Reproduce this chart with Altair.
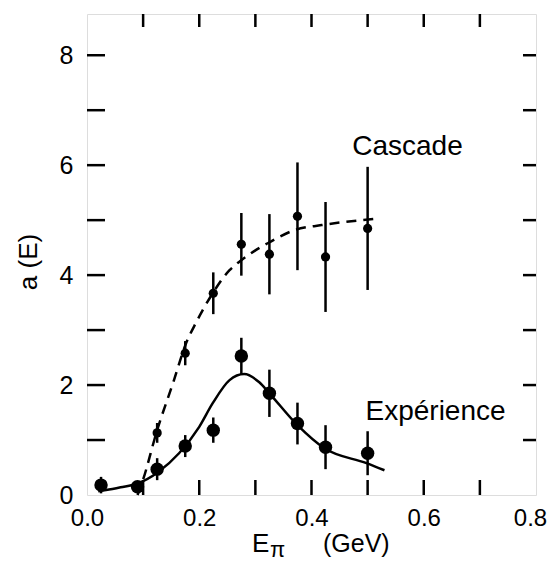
import altair as alt
import pandas as pd

# ---- data ----
cascade_x = [0.125, 0.175, 0.225, 0.275, 0.325, 0.375, 0.425, 0.5]
cascade_y = [1.13, 2.58, 3.67, 4.56, 4.38, 5.07, 4.33, 4.85]
cascade_err = [0.18, 0.22, 0.38, 0.57, 0.73, 0.98, 1.0, 1.12]

exp_x = [0.025, 0.09, 0.125, 0.175, 0.225, 0.275, 0.325, 0.375, 0.425, 0.5]
exp_y = [0.18, 0.15, 0.47, 0.89, 1.18, 2.53, 1.85, 1.3, 0.87, 0.76]
exp_err = [0.15, 0.1, 0.2, 0.2, 0.23, 0.33, 0.43, 0.38, 0.4, 0.4]

solid_x = [0.02, 0.034, 0.06, 0.09, 0.127, 0.164, 0.2, 0.224, 0.254, 0.28, 0.307, 0.325, 0.375, 0.423, 0.498, 0.53]
solid_y = [0.07, 0.09, 0.14, 0.21, 0.42, 0.76, 1.24, 1.67, 2.09, 2.2, 2.05, 1.85, 1.27, 0.85, 0.58, 0.45]

dashed_x = [0.09, 0.098, 0.125, 0.155, 0.175, 0.195, 0.224, 0.254, 0.271, 0.3, 0.322, 0.37, 0.418, 0.51]
dashed_y = [0.0, 0.22, 1.18, 2.09, 2.72, 3.15, 3.67, 4.09, 4.24, 4.45, 4.58, 4.82, 4.91, 5.02]

x_label_values = [0.0, 0.2, 0.4, 0.6, 0.8]
y_label_values = [0, 2, 4, 6, 8]
x_tick_values = [0.1, 0.2, 0.3, 0.4, 0.5, 0.6, 0.7]
y_tick_values = [1, 2, 3, 4, 5, 6, 7, 8]

W, H = 449, 481
FONT = "Liberation Sans"

xs = alt.Scale(domain=[0, 0.8], nice=False, zero=False)
ys = alt.Scale(domain=[0, 8.75], nice=False, zero=False)

x_axis = alt.Axis(values=x_label_values, format=".1f", title=None, ticks=False, tickSize=0,
                  domain=False, grid=False, labelFontSize=24, labelPadding=11, labelFlush=False,
                  labelOffset={"condition": {"test": "datum.value >= 0.79", "value": -6}, "value": 0},
                  labelFont=FONT, labelColor="black")
y_axis = alt.Axis(values=y_label_values, format="d", title=None, ticks=False, tickSize=0,
                  domain=False, grid=False, labelFontSize=25, labelPadding=14, labelFlush=False,
                  labelFont=FONT, labelColor="black")


def X(field):
    return alt.X(field, type="quantitative", scale=xs, axis=x_axis)


def Y(field):
    return alt.Y(field, type="quantitative", scale=ys, axis=y_axis)


casc = pd.DataFrame({"x": cascade_x, "y": cascade_y,
                     "lo": [y - e for y, e in zip(cascade_y, cascade_err)],
                     "hi": [y + e for y, e in zip(cascade_y, cascade_err)]})
expd = pd.DataFrame({"x": exp_x, "y": exp_y,
                     "lo": [y - e for y, e in zip(exp_y, exp_err)],
                     "hi": [y + e for y, e in zip(exp_y, exp_err)]})
solid = pd.DataFrame({"x": solid_x, "y": solid_y})
dashed = pd.DataFrame({"x": dashed_x, "y": dashed_y})

solid_line = alt.Chart(solid).mark_line(color="black", strokeWidth=2.5, interpolate="monotone").encode(
    x=X("x"), y=Y("y"))
dashed_line = alt.Chart(dashed).mark_line(color="black", strokeWidth=2.5, strokeDash=[10, 7],
                                          interpolate="monotone").encode(x=X("x"), y=Y("y"))

casc_err = alt.Chart(casc).mark_rule(color="black", strokeWidth=2.5).encode(
    x=X("x"), y=Y("lo"), y2="hi")
casc_pts = alt.Chart(casc).mark_circle(color="black", opacity=1, size=85).encode(x=X("x"), y=Y("y"))

exp_errb = alt.Chart(expd).mark_rule(color="black", strokeWidth=2.5).encode(
    x=X("x"), y=Y("lo"), y2="hi")
exp_pts = alt.Chart(expd).mark_circle(color="black", opacity=1, size=180).encode(x=X("x"), y=Y("y"))

xt = pd.DataFrame({"v": x_tick_values})
yt = pd.DataFrame({"v": y_tick_values})
bottom_ticks = alt.Chart(xt).mark_rule(color="black", strokeWidth=2.5).encode(
    x=X("v"), y=alt.value(H), y2=alt.value(H - 15))
top_ticks = alt.Chart(xt).mark_rule(color="black", strokeWidth=2.5).encode(
    x=X("v"), y=alt.value(0), y2=alt.value(13))
left_ticks = alt.Chart(yt).mark_rule(color="black", strokeWidth=2.5).encode(
    y=Y("v"), x=alt.value(0), x2=alt.value(18))
right_ticks = alt.Chart(yt).mark_rule(color="black", strokeWidth=2.5).encode(
    y=Y("v"), x=alt.value(W), x2=alt.value(W - 13))

labels = pd.DataFrame({"x": [0.571, 0.621], "y": [6.18, 1.36], "t": ["Cascade", "Expérience"]})
series_labels = alt.Chart(labels).mark_text(font=FONT, fontSize=28, color="black",
                                            align="center", baseline="alphabetic").encode(
    x=X("x"), y=Y("y"), text="t")

ytitle = alt.Chart(pd.DataFrame({"t": ["a (E)"]})).mark_text(
    font=FONT, fontSize=26, color="black", angle=270, align="center", baseline="middle").encode(
    x=alt.value(-58), y=alt.value(248), text="t")
xtitle_e = alt.Chart(pd.DataFrame({"t": ["E"]})).mark_text(
    font=FONT, fontSize=26, color="black", align="left", baseline="alphabetic").encode(
    x=alt.value(165), y=alt.value(538), text="t")
xtitle_sub = alt.Chart(pd.DataFrame({"t": ["π"]})).mark_text(
    font=FONT, fontSize=22, color="black", align="left", baseline="alphabetic").encode(
    x=alt.value(183), y=alt.value(543), text="t")
xtitle_unit = alt.Chart(pd.DataFrame({"t": ["(GeV)"]})).mark_text(
    font=FONT, fontSize=25, color="black", align="left", baseline="alphabetic").encode(
    x=alt.value(236), y=alt.value(538), text="t")

chart = alt.layer(
    exp_pts, solid_line, dashed_line, casc_err, casc_pts, exp_errb,
    bottom_ticks, top_ticks, left_ticks, right_ticks,
    series_labels, ytitle, xtitle_e, xtitle_sub, xtitle_unit,
).properties(
    width=W, height=H,
    autosize=alt.AutoSizeParams(type="none"),
    padding={"left": 79, "top": 6, "right": 11, "bottom": 68},
).configure_view(stroke="black", strokeWidth=3).configure(background="white")

chart.save("out.html", embed_options={"renderer": "svg", "actions": False})
